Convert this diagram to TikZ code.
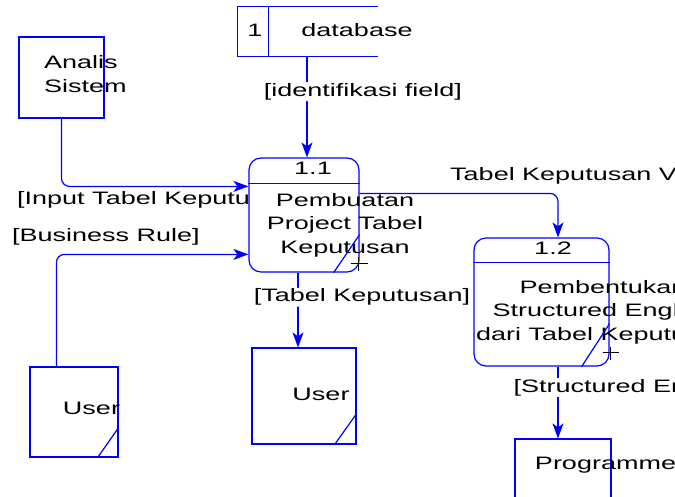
\documentclass[tikz,border=0pt]{standalone}
\usepackage{fontspec}
\newfontfamily\dfdfont{Liberation Sans}[FakeStretch=1.5]
\usetikzlibrary{positioning,arrows.meta,calc}

\begin{document}
\begin{tikzpicture}[
    x=1pt, y=-1pt,
    font=\dfdfont\fontsize{18}{23.5}\selectfont,
    dfd/.style={draw=blue, line width=1.2pt},
    flow/.style={->, >={Stealth[length=15pt, width=11pt, inset=4pt]}, blue,
                 line width=1.2pt, rounded corners=8pt},
    entity/.style={dfd, rectangle, inner sep=0pt},
    proc/.style={dfd, rectangle, rounded corners=12pt, fill=white, inner sep=0pt},
    txt/.style={inner sep=0pt, text=black},
    lbl/.style={inner sep=1pt, fill=white, text=black},
    plus/.style={draw=black, line width=0.9pt},
  ]
  \useasboundingbox (0,0) rectangle (675,496);

  % labels that sit behind the process boxes
  \node[txt, anchor=west] (lblInput) at (17,200) {[Input Tabel Keputusan]};
  \node[txt, anchor=west] (lblRule) at (12,237) {[Business Rule]};

  % external entities
  \node[entity, minimum width=85pt, minimum height=81pt] (analis) at (61.5,77.5) {};
  \node[txt, anchor=west, align=left] (analisTxt) at (44,74) {Analis\\Sistem};

  \node[entity, minimum width=88pt, minimum height=90pt] (userL) at (74,412) {};
  \node[txt] (userLTxt) at (91.5,408) {User};
  \draw[dfd] ($(userL.south east)+(0,-30)$) -- ($(userL.south east)+(-21,0)$);

  \node[entity, minimum width=104pt, minimum height=96pt] (userM) at (304,396) {};
  \node[txt] (userMTxt) at (321,394) {User};
  \draw[dfd] ($(userM.south east)+(0,-31)$) -- ($(userM.south east)+(-22,0)$);

  \node[entity, minimum width=96pt, minimum height=96pt] (prog) at (563,487) {};
  \node[txt] (progTxt) at (610,465) {Programmer};
  \draw[dfd] ($(prog.south east)+(0,-31)$) -- ($(prog.south east)+(-22,0)$);

  % data store
  \node[minimum width=140pt, minimum height=49pt, inner sep=0pt] (db) at (308,31.5) {};
  \draw[dfd] (db.north east) -- (db.north west) -- (db.south west) -- (db.south east);
  \draw[dfd] ($(db.north west)+(31,0)$) -- ($(db.south west)+(31,0)$);
  \node[txt] (dbNum) at (255,30) {1};
  \node[txt] (dbName) at (357,30) {database};

  % process 1.1
  \node[proc, minimum width=110pt, minimum height=114pt] (p11) at (304,215) {};
  \draw[dfd] ($(p11.north west)+(0,26)$) -- ($(p11.north east)+(0,26)$);
  \node[txt] (p11Num) at (313,168) {1.1};
  \node[txt, align=center] (p11Txt) at (345,225) {Pembuatan\\Project Tabel\\Keputusan};
  \draw[dfd] ($(p11.south east)+(0,-38)$) -- ($(p11.south east)+(-26,0)$);
  \draw[plus] ($(p11.south east)+(-9,-9)$) -- ++(17,0)
              ($(p11.south east)+(-1,-16)$) -- ++(0,14);

  % process 1.2
  \node[proc, minimum width=135pt, minimum height=128pt] (p12) at (541.5,302) {};
  \draw[dfd] ($(p12.north west)+(0,25)$) -- ($(p12.north east)+(0,25)$);
  \node[txt] (p12Num) at (553,248) {1.2};
  \node[txt, align=center] (p12Txt) at (603,312) {Pembentukan\\Structured English\\dari Tabel Keputusan};
  \draw[dfd] ($(p12.south east)+(0,-43)$) -- ($(p12.south east)+(-28,0)$);
  \draw[plus] ($(p12.south east)+(-7,-14)$) -- ++(16,0)
              ($(p12.south east)+(1,-20)$) -- ++(0,13);

  % data flows
  \draw[flow] ([xshift=-1pt]db.south) -- ([xshift=-1pt]db.south |- p11.north)
    node[lbl, pos=0.35, xshift=56pt] (lblIdent) {[identifikasi field]};
  \draw[flow] (analis.south) |- ($(p11.north west)+(0,29)$);
  \draw[flow] ($(userL.north west)+(27,0)$) |- ($(p11.north west)+(0,97)$);
  \draw[flow] ([xshift=-6pt]p11.south) -- ([xshift=-6pt]userM.north)
    node[lbl, pos=0.33, xshift=64pt] (lblTK) {[Tabel Keputusan]};
  \draw[flow] ($(p11.north east)+(0,36)$) -| ($(p12.north)+(16.5,0)$);
  \node[txt, anchor=west] (lblValid) at (450,176) {Tabel Keputusan Valid};
  \draw[flow] ([xshift=16.5pt]p12.south) -- ([xshift=-5pt]prog.north)
    node[lbl, pos=0.29, anchor=west, xshift=-46pt] (lblSE) {[Structured English]};
\end{tikzpicture}
\end{document}
